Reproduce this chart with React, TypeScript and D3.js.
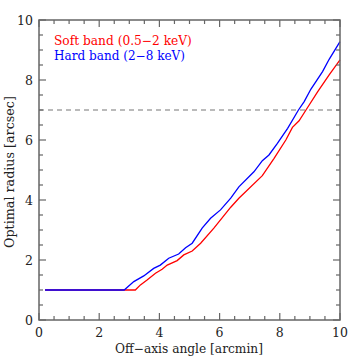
import React, { useEffect, useRef } from "react";
import * as d3 from "d3";

// Off-axis angle [arcmin] vs optimal radius [arcsec]
const softX = [0.2, 3.2, 3.37, 3.59, 3.87, 4.09, 4.26, 4.59, 4.81, 5.09, 5.37, 5.81, 6.37, 6.64, 7.42, 7.81, 8.2, 8.42, 8.64, 8.87, 9.26, 9.64, 10];
const softY = [1.0, 1.0, 1.17, 1.33, 1.56, 1.69, 1.83, 1.98, 2.17, 2.3, 2.56, 3.06, 3.76, 4.06, 4.81, 5.39, 6.0, 6.42, 6.64, 7.0, 7.61, 8.17, 8.67];
const hardX = [0.2, 2.83, 3.15, 3.48, 3.81, 4.03, 4.31, 4.64, 4.87, 5.09, 5.42, 5.7, 6.03, 6.37, 6.64, 7.14, 7.42, 7.64, 7.92, 8.26, 8.62, 8.81, 9.03, 9.42, 9.64, 10];
const hardY = [1.0, 1.0, 1.28, 1.47, 1.72, 1.83, 2.06, 2.2, 2.41, 2.56, 3.06, 3.39, 3.67, 4.06, 4.44, 4.94, 5.31, 5.5, 5.89, 6.39, 7.0, 7.28, 7.69, 8.28, 8.69, 9.28];
const refRadius = 7;
const majorTicks = [0, 2, 4, 6, 8, 10];
const minorTicks = d3.range(0, 10.01, 0.5);
const legend = [
  { label: "Soft band (0.5\u22122 keV)", color: "#ff0000", width: 138 },
  { label: "Hard band (2\u22128 keV)", color: "#0000ff", width: 131 },
];

const W = 359;
const H = 359;
const M = { left: 39, right: 19, top: 20, bottom: 39 };
const FONT = "'DejaVu Serif', 'Liberation Serif', serif";
const AXIS = "#666";

// shrink/grow font so a label spans the given width
const fitText = (sel: d3.Selection<SVGTextElement, unknown, null, undefined>, width: number) => {
  const node = sel.node();
  if (!node) return;
  const len = node.getComputedTextLength();
  const fs = parseFloat(sel.attr("font-size"));
  if (len > 0) sel.attr("font-size", `${(fs * width) / len}px`);
};

const App = () => {
  const svgRef = useRef<SVGSVGElement>(null);

  useEffect(() => {
    document.body.style.margin = "0";
    if (!svgRef.current) return;
    const svg = d3.select(svgRef.current);
    svg.selectAll("*").remove();

    const x = d3.scaleLinear().domain([0, 10]).range([M.left, W - M.right]);
    const y = d3.scaleLinear().domain([0, 10]).range([H - M.bottom, M.top]);

    // dashed reference line
    svg.append("line")
      .attr("x1", x(0)).attr("x2", x(10))
      .attr("y1", y(refRadius)).attr("y2", y(refRadius))
      .attr("stroke", "#777").attr("stroke-width", 1.2)
      .attr("stroke-dasharray", "5,4");

    const line = d3.line<[number, number]>().x(d => x(d[0])).y(d => y(d[1]));
    const series = [
      { xs: softX, ys: softY, color: legend[0].color },
      { xs: hardX, ys: hardY, color: legend[1].color },
    ];
    series.forEach(s => {
      svg.append("path")
        .attr("d", line(s.xs.map((v, i) => [v, s.ys[i]] as [number, number])))
        .attr("fill", "none")
        .attr("stroke", s.color)
        .attr("stroke-width", 1.3);
    });

    // frame
    svg.append("rect")
      .attr("x", x(0)).attr("y", y(10))
      .attr("width", x(10) - x(0)).attr("height", y(0) - y(10))
      .attr("fill", "none").attr("stroke", AXIS).attr("stroke-width", 1.5);

    // inward ticks on all sides
    const tickG = svg.append("g").attr("stroke", AXIS).attr("stroke-width", 1.2);
    minorTicks.forEach(t => {
      const len = majorTicks.includes(t) ? 7 : 4;
      tickG.append("line").attr("x1", x(t)).attr("x2", x(t)).attr("y1", y(0)).attr("y2", y(0) - len);
      tickG.append("line").attr("x1", x(t)).attr("x2", x(t)).attr("y1", y(10)).attr("y2", y(10) + len);
      tickG.append("line").attr("x1", x(0)).attr("x2", x(0) + len).attr("y1", y(t)).attr("y2", y(t));
      tickG.append("line").attr("x1", x(10)).attr("x2", x(10) - len).attr("y1", y(t)).attr("y2", y(t));
    });

    majorTicks.forEach(t => {
      svg.append("text")
        .attr("x", x(t)).attr("y", y(0) + 17)
        .attr("text-anchor", "middle")
        .attr("font-family", FONT).attr("font-size", "12.5px").attr("fill", "#222")
        .text(t);
      svg.append("text")
        .attr("x", x(0) - 6).attr("y", y(t) + 4.5)
        .attr("text-anchor", "end")
        .attr("font-family", FONT).attr("font-size", "12.5px").attr("fill", "#222")
        .text(t);
    });

    const xLabel = svg.append("text")
      .attr("x", (x(0) + x(10)) / 2 - 0.5).attr("y", H - 6)
      .attr("text-anchor", "middle")
      .attr("font-family", FONT).attr("font-size", "12.5px").attr("fill", "#222")
      .text("Off\u2212axis angle [arcmin]");
    fitText(xLabel, 148);

    const yLabel = svg.append("text")
      .attr("transform", `translate(14,${(y(0) + y(10)) / 2 + 2}) rotate(-90)`)
      .attr("text-anchor", "middle")
      .attr("font-family", FONT).attr("font-size", "12.5px").attr("fill", "#222")
      .text("Optimal radius [arcsec]");
    fitText(yLabel, 152);

    legend.forEach((l, i) => {
      const t = svg.append("text")
        .attr("x", 54).attr("y", 45 + i * 15)
        .attr("font-family", FONT).attr("font-size", "12px")
        .attr("fill", l.color)
        .text(l.label);
      fitText(t, l.width);
    });
  }, []);

  return <svg ref={svgRef} width={W} height={H} style={{ display: "block", background: "#fff" }} />;
};

export default App;
